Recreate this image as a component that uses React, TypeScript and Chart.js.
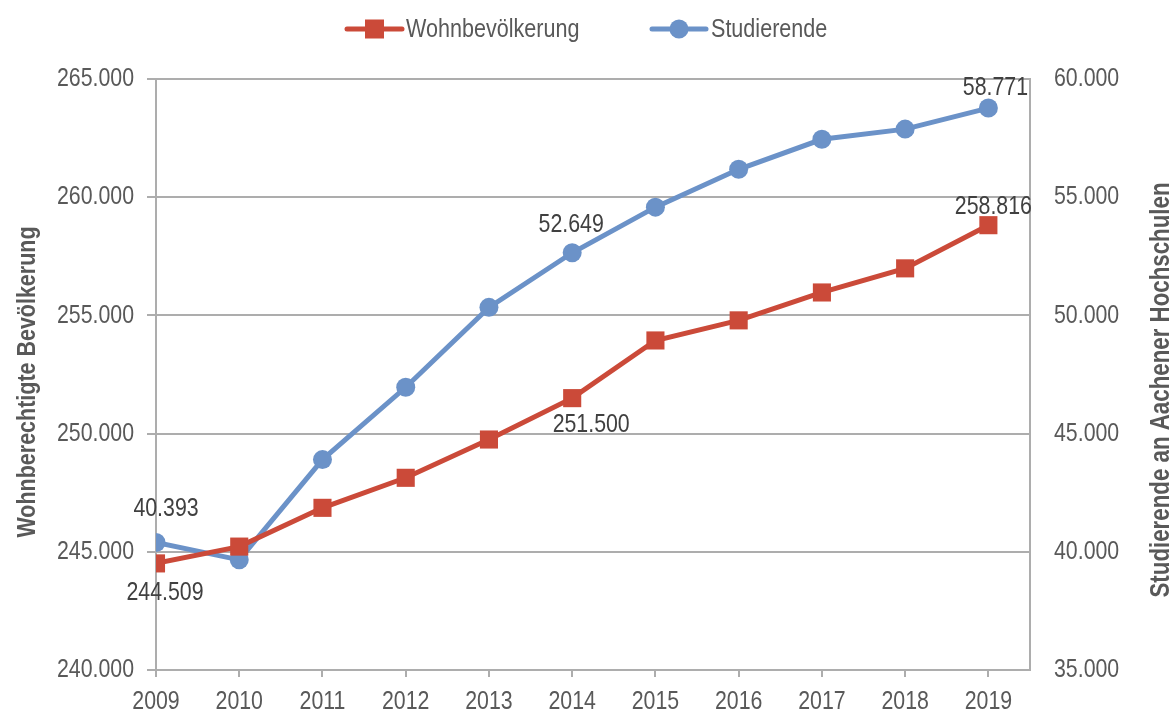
import React, { useEffect, useRef } from "react";
import { Chart, registerables } from "chart.js";

Chart.register(...registerables);

const years = [2009, 2010, 2011, 2012, 2013, 2014, 2015, 2016, 2017, 2018, 2019];
const wohnbevoelkerung = [244509, 245220, 246860, 248130, 249750, 251500, 253940, 254790, 255970, 256990, 258816];
const studierende = [40393, 39660, 43900, 46960, 50340, 52649, 54580, 56180, 57450, 57880, 58771];
const leftTicks = [240000, 245000, 250000, 255000, 260000, 265000];
const rightTicks = [35000, 40000, 45000, 50000, 55000, 60000];
const seriesNames = ["Wohnbevölkerung", "Studierende"];
const leftTitle = "Wohnberechtigte Bevölkerung";
const rightTitle = "Studierende an Aachener Hochschulen";
// data labels: [datasetIndex, pointIndex, dx, dy]
const dataLabels: [number, number, number, number][] = [
  [1, 0, 10, -34],
  [0, 0, 9, 29],
  [1, 5, -1, -28],
  [0, 5, 19, 27],
  [1, 10, 7, -20],
  [0, 10, 5, -18],
];

const RED = "#CB4A39";
const BLUE = "#6B92C8";
const GRID = "#ADADAD";
const TXT = "#595959";
const FAMILY = '"Liberation Sans", Arial, sans-serif';
const NARROW = 0.82;
const SIZE = 26;

const fmt = (v: number) =>
  Math.round(v).toString().replace(/\B(?=(\d{3})+(?!\d))/g, ".");

function drawText(
  ctx: CanvasRenderingContext2D,
  s: string,
  x: number,
  y: number,
  align: CanvasTextAlign,
  color: string,
  bold = false,
  rot = 0,
  size = SIZE
) {
  ctx.save();
  ctx.translate(x, y);
  if (rot) ctx.rotate(rot);
  ctx.scale(NARROW, 1);
  ctx.font = `${bold ? "bold " : ""}${size}px ${FAMILY}`;
  ctx.fillStyle = color;
  ctx.textAlign = align;
  ctx.textBaseline = "middle";
  ctx.fillText(s, 0, 0);
  ctx.restore();
}

const overlay = {
  id: "overlay",
  afterDraw(chart: any) {
    const ctx = chart.ctx as CanvasRenderingContext2D;
    ctx.save();
    const sx = chart.scales.x;
    const sy = chart.scales.y;
    const sy1 = chart.scales.y1;
    // tick labels
    years.forEach((v) => drawText(ctx, String(v), sx.getPixelForValue(v), 702, "center", TXT));
    leftTicks.forEach((v) => drawText(ctx, fmt(v), 134, sy.getPixelForValue(v), "right", TXT));
    rightTicks.forEach((v) => drawText(ctx, fmt(v), 1054, sy1.getPixelForValue(v), "left", TXT));
    // data labels
    dataLabels.forEach(([ds, idx, dx, dy]) => {
      const el = chart.getDatasetMeta(ds).data[idx];
      const v = chart.data.datasets[ds].data[idx].y;
      drawText(ctx, fmt(v), el.x + dx, el.y + dy, "center", "#404040");
    });
    // legend
    const legendY = 29;
    const items = [
      { x0: 347, x1: 402, color: RED, style: "rect", text: seriesNames[0], tx: 406 },
      { x0: 652, x1: 706, color: BLUE, style: "circle", text: seriesNames[1], tx: 711 },
    ];
    items.forEach((it) => {
      ctx.strokeStyle = it.color;
      ctx.lineWidth = 5;
      ctx.lineCap = "round";
      ctx.beginPath();
      ctx.moveTo(it.x0, legendY);
      ctx.lineTo(it.x1, legendY);
      ctx.stroke();
      ctx.fillStyle = it.color;
      const cx = (it.x0 + it.x1) / 2;
      if (it.style === "rect") {
        ctx.fillRect(cx - 9.5, legendY - 9.5, 19, 19);
      } else {
        ctx.beginPath();
        ctx.arc(cx, legendY, 9.5, 0, Math.PI * 2);
        ctx.fill();
      }
      drawText(ctx, it.text, it.tx, legendY + 1, "left", TXT, false, 0, 26.3);
    });
    // axis titles
    drawText(ctx, leftTitle, 28, 382, "center", TXT, true, -Math.PI / 2, 26.2);
    drawText(ctx, rightTitle, 1162, 390, "center", TXT, true, -Math.PI / 2, 27.2);
    ctx.restore();
  },
};

const hidden = "rgba(0,0,0,0)";

export default function App() {
  const ref = useRef<HTMLCanvasElement>(null);
  useEffect(() => {
    if (!ref.current) return;
    const chart = new Chart(ref.current, {
      type: "line",
      data: {
        datasets: [
          {
            label: seriesNames[0],
            data: years.map((y, i) => ({ x: y, y: wohnbevoelkerung[i] })),
            borderColor: RED,
            backgroundColor: RED,
            borderWidth: 5,
            pointStyle: "rect",
            pointRadius: 12.8,
            pointBorderWidth: 0,
            pointBackgroundColor: RED,
            yAxisID: "y",
          },
          {
            label: seriesNames[1],
            data: years.map((y, i) => ({ x: y, y: studierende[i] })),
            borderColor: BLUE,
            backgroundColor: BLUE,
            borderWidth: 5,
            pointStyle: "circle",
            pointRadius: 9.5,
            pointBorderWidth: 0,
            pointBackgroundColor: BLUE,
            yAxisID: "y1",
          },
        ],
      },
      options: {
        animation: false,
        responsive: true,
        maintainAspectRatio: false,
        layout: { padding: { top: 79, left: 0, right: 0, bottom: 0 } },
        plugins: { legend: { display: false }, tooltip: { enabled: false } },
        scales: {
          x: {
            type: "linear",
            min: 2009,
            max: 2019.5,
            afterBuildTicks: (s: any) => {
              s.ticks = years.map((v) => ({ value: v }));
            },
            afterFit: (s: any) => {
              s.height = 43;
            },
            ticks: { color: hidden, font: { size: 20 }, maxRotation: 0, autoSkip: false },
            grid: { drawOnChartArea: false, drawTicks: true, tickLength: 7, color: GRID, lineWidth: 2 },
            border: { display: true, color: GRID, width: 2 },
          },
          y: {
            type: "linear",
            position: "left",
            min: 240000,
            max: 265000,
            afterBuildTicks: (s: any) => {
              s.ticks = leftTicks.map((v) => ({ value: v }));
            },
            afterFit: (s: any) => {
              s.width = 156;
            },
            ticks: { color: hidden },
            grid: { color: GRID, lineWidth: 2, tickLength: 9, drawTicks: true },
            border: { display: true, color: GRID, width: 2 },
          },
          y1: {
            type: "linear",
            position: "right",
            min: 35000,
            max: 60000,
            afterBuildTicks: (s: any) => {
              s.ticks = rightTicks.map((v) => ({ value: v }));
            },
            afterFit: (s: any) => {
              s.width = 144;
            },
            ticks: { color: hidden },
            grid: { drawOnChartArea: false, drawTicks: false },
            border: { display: true, color: GRID, width: 2 },
          },
        },
      },
      plugins: [overlay],
    });
    return () => chart.destroy();
  }, []);
  return (
    <div style={{ position: "absolute", left: 0, top: 0, width: 1174, height: 713, background: "#fff" }}>
      <canvas ref={ref} />
    </div>
  );
}
